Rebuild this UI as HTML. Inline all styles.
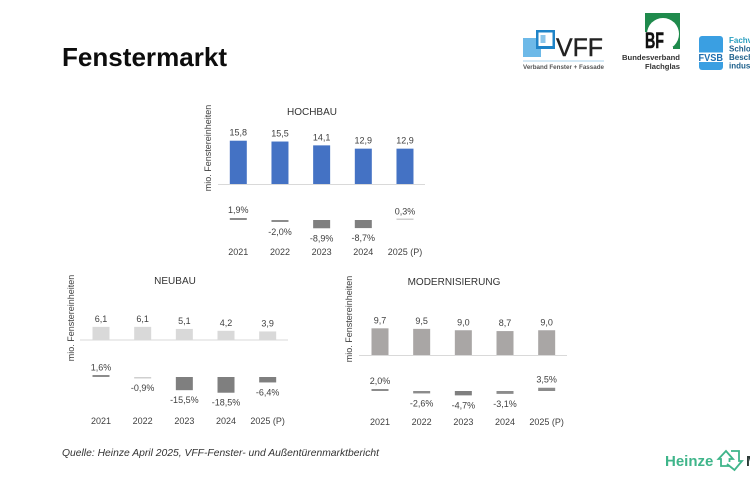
<!DOCTYPE html>
<html lang="de">
<head>
<meta charset="utf-8">
<title>Fenstermarkt</title>
<style>
html,body{margin:0;padding:0;background:#fff;width:750px;height:500px;overflow:hidden}
svg{display:block;font-family:"Liberation Sans",sans-serif}
</style>
</head>
<body>
<svg id="chart" width="750" height="500" viewBox="0 0 750 500" xmlns="http://www.w3.org/2000/svg">
  <rect width="750" height="500" fill="#ffffff"/>
  <text x="62" y="66" font-size="26" font-weight="bold" fill="#0d0d0d" textLength="165" lengthAdjust="spacingAndGlyphs">Fenstermarkt</text>

  <g>
    <rect x="523" y="38" width="18" height="19" fill="#6db9e8"/>
    <rect x="536" y="30" width="19" height="19" fill="#1f84c8"/>
    <rect x="538.5" y="32.5" width="14" height="13.5" fill="#ffffff"/>
    <rect x="540.5" y="35" width="5" height="8" fill="#8cc6ea"/>
    <text x="556" y="56" font-size="25" fill="#222222" stroke="#222222" stroke-width="0.4" textLength="47" lengthAdjust="spacingAndGlyphs">VFF</text>
    <rect x="523" y="60.5" width="81" height="1" fill="#a8d3ee"/>
    <text x="523" y="69" font-size="6.5" font-weight="bold" fill="#555555" textLength="81" lengthAdjust="spacingAndGlyphs">Verband Fenster + Fassade</text>
  </g>

  <g>
    <rect x="645" y="13" width="35" height="36" fill="#1f8a4c"/>
    <circle cx="663" cy="34" r="16" fill="#ffffff"/>
    <rect x="645" y="32" width="20" height="18" fill="#ffffff"/>
    <rect x="663" y="47" width="10" height="3" fill="#ffffff"/>
    <text x="645" y="48" font-size="22" font-weight="bold" fill="#111111" stroke="#111111" stroke-width="0.5" textLength="19" lengthAdjust="spacingAndGlyphs">BF</text>
    <text x="622" y="60" font-size="7.6" font-weight="bold" fill="#333333" textLength="58" lengthAdjust="spacingAndGlyphs">Bundesverband</text>
    <text x="680" y="69" font-size="7.6" font-weight="bold" fill="#333333" text-anchor="end">Flachglas</text>
  </g>

  <g>
    <rect x="699" y="36" width="24" height="34" rx="3" fill="#3a9fe2"/>
    <rect x="698" y="52.5" width="26" height="9.5" fill="#ffffff"/>
    <text x="698.5" y="61" font-size="10.5" font-weight="bold" fill="#1f6fb0" textLength="24.5" lengthAdjust="spacingAndGlyphs">FVSB</text>
    <text x="729" y="43" font-size="8" font-weight="bold" fill="#2a9fc0">Fachverband</text>
    <text x="729" y="51.5" font-size="8" font-weight="bold" fill="#1c5f8a">Schloss- und</text>
    <text x="729" y="60" font-size="8" font-weight="bold" fill="#1c5f8a">Beschlag-</text>
    <text x="729" y="68.5" font-size="8" font-weight="bold" fill="#1c5f8a">industrie</text>
  </g>

  <text x="62" y="456" font-size="10.5" font-style="italic" fill="#333333" textLength="317" lengthAdjust="spacingAndGlyphs">Quelle: Heinze April 2025, VFF-Fenster- und Außentürenmarktbericht</text>

  <g>
    <text x="665" y="466" font-size="15" font-weight="bold" fill="#3fb58a">Heinze</text>
    <path d="M729 466 L721 466 L721 459 L718.5 459 L726 451 L733 459 L729.5 459 L729.5 462" fill="none" stroke="#3fb58a" stroke-width="1.8"/>
    <path d="M731 451 L739 451 L739 461 L742 461 L734.5 470 L727 464" fill="none" stroke="#3fb58a" stroke-width="1.8"/>
    <text x="746" y="466" font-size="15" font-weight="bold" fill="#2c3a36">M</text>
  </g>

  <g id="panels"></g>
</svg>
<script>
const years = ['2021', '2022', '2023', '2024', '2025 (P)'];

const hochbauValues = [15.8, 15.5, 14.1, 12.9, 12.9];
const hochbauChanges = [1.9, -2.0, -8.9, -8.7, 0.3];

const neubauValues = [6.1, 6.1, 5.1, 4.2, 3.9];
const neubauChanges = [1.6, -0.9, -15.5, -18.5, -6.4];

const modernValues = [9.7, 9.5, 9.0, 8.7, 9.0];
const modernChanges = [2.0, -2.6, -4.7, -3.1, 3.5];

const NS = 'http://www.w3.org/2000/svg';
const root = document.getElementById('panels');

function comma(v) {
  return v.toFixed(1).replace('.', ',');
}

function addRect(parent, x, y, w, h, fill) {
  const r = document.createElementNS(NS, 'rect');
  r.setAttribute('x', x);
  r.setAttribute('y', y);
  r.setAttribute('width', w);
  r.setAttribute('height', h);
  r.setAttribute('fill', fill);
  parent.appendChild(r);
  return r;
}

function addText(parent, x, y, str, size, fill) {
  const t = document.createElementNS(NS, 'text');
  t.setAttribute('x', x);
  t.setAttribute('y', y);
  t.setAttribute('font-size', size);
  t.setAttribute('fill', fill);
  t.setAttribute('text-anchor', 'middle');
  t.textContent = str;
  parent.appendChild(t);
  return t;
}

function drawPanel(p, values, changes) {
  const g = document.createElementNS(NS, 'g');
  
  
  root.appendChild(g);

  const xScale = i => p.x0 + i * p.step;
  const yValue = v => p.base - v * p.unit;
  const yChange = v => p.changeBase - v * p.changeUnit;
  const barW = 17;

  const title = addText(g, p.titleX, p.titleY, p.title, 10, '#333333');
  
  

  const yTitle = addText(g, 0, 0, 'mio. Fenstereinheiten', 9, '#404040');
  yTitle.setAttribute('transform', 'translate(' + p.axisTitleX + ',' + p.axisTitleY + ') rotate(-90)');
  
  

  values.forEach((v, i) => {
    const cx = xScale(i);
    const top = yValue(v);
    const bar = addRect(g, cx - barW / 2, top, barW, p.base - top, p.color);
    
    
    const label = addText(g, cx, top - 5, comma(v), 9, '#404040');
    
    
  });

  const axis = addRect(g, p.axisX0, p.base, p.axisX1 - p.axisX0, 1, '#d9d9d9');
  
  

  changes.forEach((v, i) => {
    const cx = xScale(i);
    const end = yChange(v);
    const raw = Math.abs(end - p.changeBase);
    const small = raw < 1;
    const h = small ? 1.5 : Math.max(raw, 2);
    const top = v >= 0 ? p.changeBase - h : p.changeBase;
    const fill = small ? '#cfcfcf' : (raw < 3.5 ? '#8c8c8c' : '#7f7f7f');
    const bar = addRect(g, cx - barW / 2, top, barW, h, fill);
    
    
    const ly = v >= 0 ? end - 5 : end + 13;
    const label = addText(g, cx, ly, comma(v) + '%', 9, '#404040');
    
    
  });

  years.forEach((y, i) => {
    const t = addText(g, xScale(i), p.yearY, y, 9, '#404040');
    
    
  });
}

drawPanel({
  name: 'hochbau', title: 'HOCHBAU', titleX: 312, titleY: 115,
  axisTitleX: 211, axisTitleY: 148,
  x0: 238.3, step: 41.67, base: 184, unit: 2.74,
  changeBase: 220, changeUnit: 0.93, yearY: 255,
  axisX0: 218, axisX1: 425, color: '#4472c4'
}, hochbauValues, hochbauChanges);

drawPanel({
  name: 'neubau', title: 'NEUBAU', titleX: 175, titleY: 284,
  axisTitleX: 74, axisTitleY: 318,
  x0: 101, step: 41.67, base: 339.5, unit: 2.07,
  changeBase: 377, changeUnit: 0.85, yearY: 424,
  axisX0: 80, axisX1: 288, color: '#d9d9d9'
}, neubauValues, neubauChanges);

drawPanel({
  name: 'modernisierung', title: 'MODERNISIERUNG', titleX: 454, titleY: 285,
  axisTitleX: 352, axisTitleY: 319,
  x0: 380, step: 41.67, base: 355, unit: 2.75,
  changeBase: 391, changeUnit: 0.93, yearY: 425,
  axisX0: 359, axisX1: 567, color: '#a9a6a5'
}, modernValues, modernChanges);
</script>
</body>
</html>
